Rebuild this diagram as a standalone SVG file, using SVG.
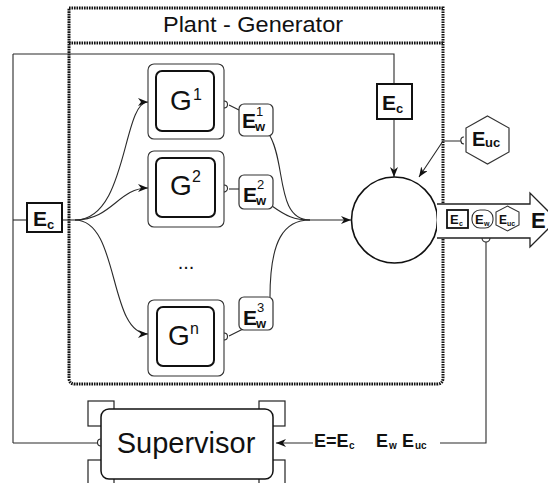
<svg xmlns="http://www.w3.org/2000/svg" width="548" height="483" viewBox="0 0 548 483">
<defs>
<style>
.thin{fill:none;stroke:#2a2a2a;stroke-width:1.1}
.dot{fill:none;stroke:#111;stroke-width:3;stroke-dasharray:1.6 0.9}
.outer{fill:#fff;stroke:#333;stroke-width:1.1}
.inner{fill:#fff;stroke:#111;stroke-width:2}
.ecbox{fill:#fff;stroke:#111;stroke-width:2}
.ewbox{fill:#fff;stroke:#333;stroke-width:1.2}
.t{font-family:"Liberation Sans",Arial,sans-serif;fill:#111}
.b{font-family:"Liberation Sans",Arial,sans-serif;font-weight:bold;fill:#111}
</style>
<marker id="arr" markerWidth="12" markerHeight="10" refX="10" refY="4" orient="auto" markerUnits="userSpaceOnUse">
<path d="M0,0 L10,4 L0,8 L3,4 z" fill="#111"/>
</marker>
</defs>

<!-- Plant boundary -->
<g id="plant">
<path class="dot" d="M69,8 H443 V378 Q443,384 437,384 H75 Q69,384 69,378 Z"/>
<line class="dot" x1="69" y1="43" x2="443" y2="43"/>
<text class="t" x="163" y="32" font-size="21.5" textLength="180" lengthAdjust="spacingAndGlyphs">Plant - Generator</text>
</g>

<!-- connectors -->
<g id="connectors">
<polyline class="thin" points="27,220 13,220"/>
<polyline class="thin" points="13,54 394,54 394,84"/>
<line class="thin" x1="13" y1="54" x2="13" y2="443"/>
<line class="thin" x1="13" y1="443" x2="98" y2="443"/>
<line class="thin" x1="394" y1="119" x2="394" y2="177" marker-end="url(#arr)"/>
<line class="thin" x1="62" y1="220" x2="75" y2="220"/>
<path class="thin" d="M75,220 C128,220 122,102 148,102" marker-end="url(#arr)"/>
<path class="thin" d="M75,220 C112,220 118,188 148,188" marker-end="url(#arr)"/>
<path class="thin" d="M75,220 C120,220 108,334 148,334" marker-end="url(#arr)"/>
<line class="thin" x1="229" y1="105" x2="239" y2="110"/>
<line class="thin" x1="229" y1="189" x2="239" y2="189"/>
<line class="thin" x1="229" y1="336" x2="243" y2="329"/>
<path class="thin" d="M270,136 C286,164 276,220 310,220"/>
<path class="thin" d="M272,206 C286,216 294,220 310,220"/>
<path class="thin" d="M270,297 C270,240 284,220 310,220"/>
<line class="thin" x1="310" y1="220" x2="351" y2="220" marker-end="url(#arr)"/>
<polyline class="thin" points="461,141 443,141 419,177" marker-end="url(#arr)"/>
<path class="thin" d="M461,141 A3,3 0 0 1 464,137 M461,141 A3,3 0 0 0 464,144"/>
<polyline class="thin" points="486,242 486,443 440,443"/>
<line class="thin" x1="313" y1="443" x2="276" y2="443" marker-end="url(#arr)"/>
</g>

<!-- Ec feedback left -->
<g id="ec-left">
<rect class="ecbox" x="27" y="203" width="35" height="29"/>
<text class="b" x="33" y="226" font-size="21">E</text>
<text class="b" x="47" y="229" font-size="13">c</text>
</g>

<!-- Ec top -->
<g id="ec-top">
<rect class="ecbox" x="377" y="84" width="35" height="35"/>
<text class="b" x="382" y="110" font-size="21">E</text>
<text class="b" x="396" y="113" font-size="13">c</text>
</g>

<!-- Generators -->
<g id="g1">
<rect class="outer" x="148" y="64" width="76" height="75" rx="6"/>
<rect class="inner" x="156" y="71" width="58" height="60" rx="6"/>
<text class="t" x="170" y="110" font-size="28">G</text>
<text class="t" x="193" y="100" font-size="16">1</text>
<path class="thin" d="M224,101 A3.5,3.5 0 0 1 224,108"/>
</g>
<g id="g2">
<rect class="outer" x="148" y="151" width="76" height="76" rx="6"/>
<rect class="inner" x="156" y="158" width="59" height="59" rx="6"/>
<text class="t" x="170" y="195" font-size="28">G</text>
<text class="t" x="192" y="182" font-size="16">2</text>
<path class="thin" d="M224,185 A3.5,3.5 0 0 1 224,192"/>
</g>
<g id="gn">
<rect class="outer" x="148" y="300" width="76" height="76" rx="6"/>
<rect class="inner" x="157" y="307" width="57" height="59" rx="6"/>
<text class="t" x="168" y="345" font-size="28">G</text>
<text class="t" x="190" y="334" font-size="16">n</text>
<path class="thin" d="M224,333 A3.5,3.5 0 0 1 224,340"/>
</g>
<g id="dots">
<text class="t" x="186" y="269" font-size="20" text-anchor="middle">...</text>
</g>

<!-- Ew boxes -->
<g id="ew1">
<rect class="ewbox" x="239" y="104" width="34" height="32" rx="5"/>
<text class="b" x="242" y="128" font-size="21">E</text>
<text class="t" x="256" y="116" font-size="13">1</text>
<text class="b" x="255" y="131" font-size="13">w</text>
</g>
<g id="ew2">
<rect class="ewbox" x="239" y="175" width="34" height="34" rx="5"/>
<text class="b" x="243" y="202" font-size="21">E</text>
<text class="t" x="257" y="189" font-size="13">2</text>
<text class="b" x="256" y="205" font-size="13">w</text>
</g>
<g id="ew3">
<rect class="ewbox" x="239" y="297" width="34" height="33" rx="5"/>
<text class="b" x="243" y="325" font-size="21">E</text>
<text class="t" x="257" y="312" font-size="13">3</text>
<text class="b" x="256" y="328" font-size="13">w</text>
</g>

<!-- Euc -->
<g id="euc">
<polygon class="ewbox" points="487.5,116 509,128 509,152 487.5,164 466,152 466,128"/>
<text class="b" x="472" y="146" font-size="20">E</text>
<text class="b" x="485" y="147" font-size="13">uc</text>
</g>

<!-- Summation node -->
<g id="sum">
<circle cx="394.5" cy="220" r="43" fill="#fff" stroke="#111" stroke-width="1.6"/>
</g>

<!-- Output arrow -->
<g id="output">
<path d="M437,204 H530 V193 L557,220 L530,247 V238 H437" fill="#fff" stroke="#222" stroke-width="1.3"/>
<path class="thin" d="M482,238 A4,4 0 0 0 490,238" fill="#fff"/>
<rect x="447" y="210" width="21" height="18" fill="#fff" stroke="#111" stroke-width="1.8"/>
<text class="b" x="450" y="224" font-size="13">E</text>
<text class="b" x="459" y="226" font-size="7">c</text>
<rect x="472" y="210" width="21" height="18" rx="8" fill="#fff" stroke="#333" stroke-width="1.1"/>
<text class="b" x="475" y="224" font-size="13">E</text>
<text class="b" x="484" y="226" font-size="7">w</text>
<polygon points="507.5,206 519,212 519,225 507.5,231 496,225 496,212" fill="#fff" stroke="#333" stroke-width="1.1"/>
<text class="b" x="499" y="224" font-size="12">E</text>
<text class="b" x="507" y="226" font-size="7">uc</text>
<text class="b" x="531" y="228" font-size="22">E</text>
</g>

<!-- Supervisor -->
<g id="supervisor">
<rect x="88" y="401" width="26" height="25" fill="#fff" stroke="#222" stroke-width="1.2"/>
<rect x="259" y="401" width="26" height="25" fill="#fff" stroke="#222" stroke-width="1.2"/>
<rect x="88" y="460" width="26" height="30" fill="#fff" stroke="#222" stroke-width="1.2"/>
<rect x="259" y="460" width="26" height="30" fill="#fff" stroke="#222" stroke-width="1.2"/>
<rect x="101" y="409" width="172" height="70" rx="8" fill="#fff" stroke="#111" stroke-width="1.5"/>
<path class="thin" d="M101,439 A3.5,3.5 0 0 0 101,446"/>
<text class="t" x="186" y="453" font-size="29" text-anchor="middle">Supervisor</text>
</g>

<!-- Energy label -->
<g id="energy-label">
<text class="b" x="314" y="447" font-size="18">E=E</text>
<text class="b" x="349" y="449" font-size="10">c</text>
<text class="b" x="376" y="447" font-size="18">E</text>
<text class="b" x="389" y="449" font-size="10">w</text>
<text class="b" x="402" y="447" font-size="18">E</text>
<text class="b" x="415" y="449" font-size="10">uc</text>
</g>
</svg>
